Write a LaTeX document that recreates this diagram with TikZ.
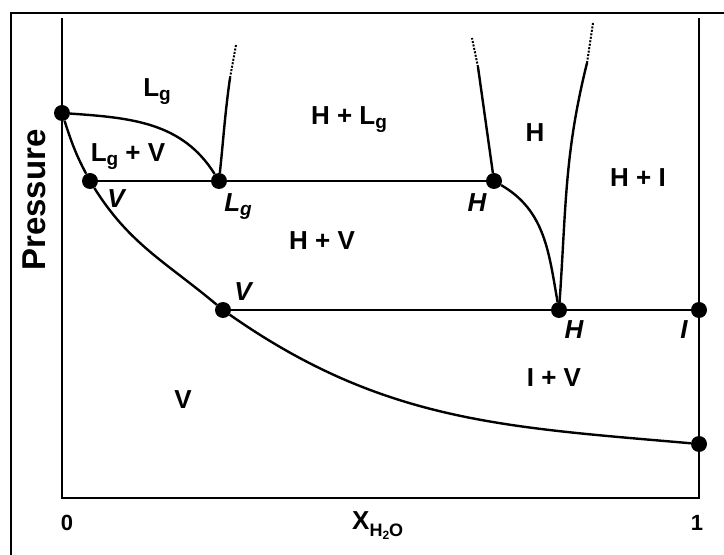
\documentclass[tikz,border=0pt]{standalone}
\usepackage{fontspec}
\setmainfont{Liberation Sans}
\tikzset{
  ptdot/.style ={circle,fill=black,inner sep=0pt,minimum size=16pt},
  lbl/.style   ={font=\fontsize{26}{28}\selectfont\bfseries,inner sep=0pt,anchor=base},
  ilbl/.style  ={lbl,font=\fontsize{26}{28}\selectfont\bfseries\itshape},
  tick/.style  ={font=\fontsize{22}{23}\selectfont\bfseries,inner sep=0pt},
  frm/.style   ={line width=2.4pt},
  axis/.style  ={line width=1.6pt},
  bnd/.style   ={line width=2.4pt},
  tie/.style   ={line width=1.6pt},
  ext/.style   ={line width=2pt,dash pattern=on 2pt off 1.5pt},
}
\newcommand{\sbg}[1]{\raisebox{-4pt}{\fontsize{19}{19}\selectfont #1}}

\begin{document}
\begin{tikzpicture}[x=1pt,y=1pt]
\useasboundingbox (0,0) rectangle (724,555);
\draw[frm] (724,542) -- (11,542) -- (11,0);
\coordinate (O) at (62,57);
\coordinate (OT) at (62,537);
\coordinate (E) at (699,57);
\coordinate (ET) at (699,537);
\draw[axis] (OT) -- (O) -- (E) -- (ET);
\node[ptdot] (A) at (62,442) {};
\node[ptdot] (V1) at (90,374) {};
\node[ptdot] (LG) at (219,374) {};
\node[ptdot] (H1) at (494,374) {};
\node[ptdot] (V2) at (223,245) {};
\node[ptdot] (H2) at (559,245) {};
\node[ptdot] (I) at (699,245) {};
\node[ptdot] (BR) at (699,111) {};
\coordinate (LGT) at (230,477);
\coordinate (LGE) at (236,510);
\coordinate (H1T) at (478,488);
\coordinate (H1E) at (472,517);
\coordinate (H2T) at (587,492);
\coordinate (H2E) at (593,532);
\draw[tie] (V1) -- (LG); \draw[tie] (LG) -- (H1);
\draw[tie] (V2) -- (H2); \draw[tie] (H2) -- (I);
\draw[bnd] (A) to[out=-4,in=122] (LG);
\draw[bnd] (A) to[out=-72,in=118] (V1);
\draw[bnd] (V1) to[out=-58,in=140] (V2);
\draw[bnd] (V2) to[out=-35,in=175] (BR);
\draw[bnd] (LG) to[out=84,in=-98] (LGT);
\draw[bnd] (H1) -- (H1T);
\draw[bnd] (H1) to[out=-30,in=100] (H2);
\draw[bnd] (H2) to[out=86,in=-104] (H2T);
\draw[ext] (LGT) -- (LGE);
\draw[ext] (H1T) -- (H1E);
\draw[ext] (H2T) -- (H2E);
\node[lbl] (tLg) at (157,458) {L\sbg{g}};
\node[lbl] (tLgV) at (128,393) {L\sbg{g} + V};
\node[ilbl] (tV1) at (116,347) {V};
\node[ilbl] (tLG) at (238,343) {L\sbg{g}};
\node[lbl] (tHLg) at (349,430) {H + L\sbg{g}};
\node[lbl] (tHV) at (322,305) {H + V};
\node[lbl] (tH) at (535,413) {H};
\node[lbl] (tHI) at (638,368) {H + I};
\node[ilbl] (tH1) at (477,343) {H};
\node[ilbl] (tV2) at (243,254) {V};
\node[ilbl] (tH2) at (574,216) {H};
\node[ilbl] (tI) at (684,216) {I};
\node[lbl] (tIV) at (554,168) {I + V};
\node[lbl] (tV) at (183,146) {V};
\node[tick] (t0) at (67,32) {0};
\node[tick] (t1) at (697,32) {1};
\node[font=\fontsize{26}{27}\selectfont\bfseries,inner sep=0pt,anchor=base west] (tX) at (352,25)
  {X\raisebox{-7pt}{\fontsize{18}{18}\selectfont H\raisebox{-3pt}{\fontsize{12}{12}\selectfont 2}O}};
\node[font=\fontsize{33}{34}\selectfont\bfseries,inner sep=0pt,anchor=base,rotate=90] (tP) at (45,355) {Pressure};
\end{tikzpicture}
\end{document}
